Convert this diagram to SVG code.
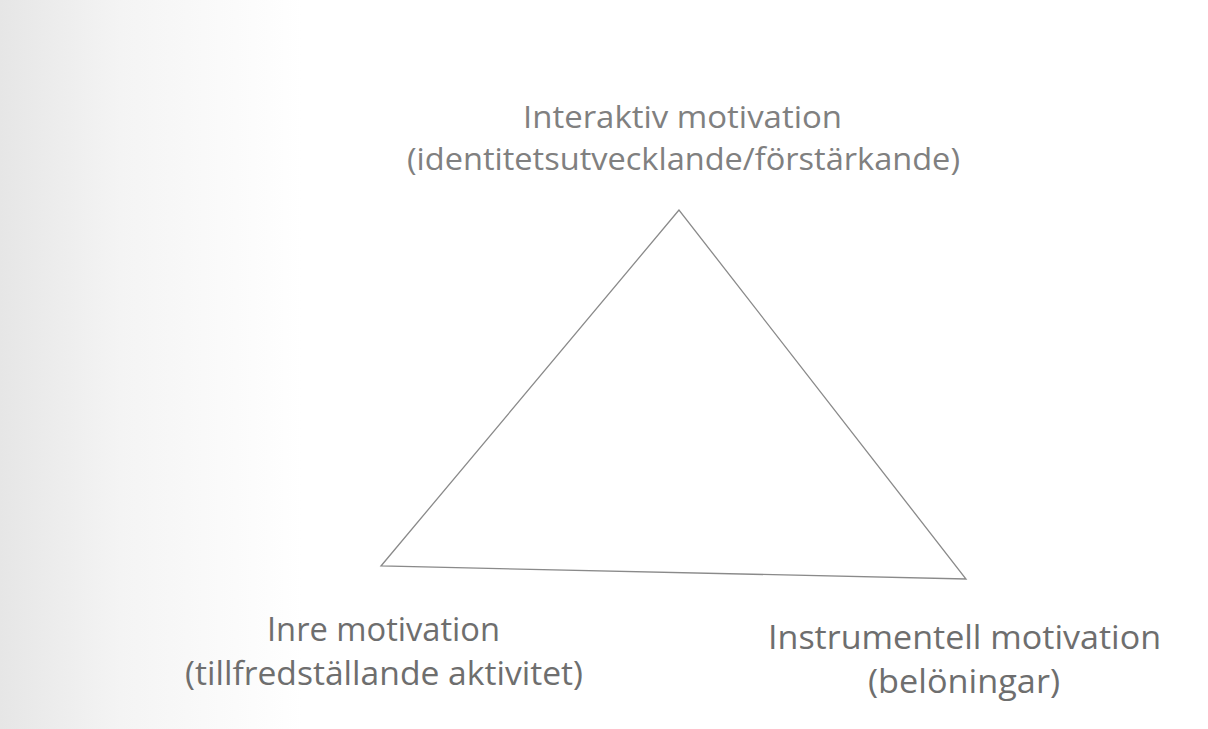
<svg xmlns="http://www.w3.org/2000/svg" width="1208" height="729" viewBox="0 0 1208 729">
<defs>
<linearGradient id="bg" x1="0" y1="0" x2="1" y2="0">
<stop offset="0" stop-color="#e6e6e6"/>
<stop offset="0.1" stop-color="#f4f4f4"/>
<stop offset="0.25" stop-color="#ffffff"/>
<stop offset="1" stop-color="#ffffff"/>
</linearGradient>
</defs>
<style>
.lbl{font-family:"Open Sans","Noto Sans","DejaVu Sans",sans-serif;font-size:31px;fill:#808080;}
.dark{fill:#6e6e6e;font-size:32px;}
.edge{fill:none;stroke:#8a8a8a;stroke-width:1.3;}
</style>
<rect x="0" y="0" width="1208" height="729" fill="url(#bg)"/>
<g id="connectors">
<path class="edge" d="M679 210 L381 566 L966 579 Z"/>
</g>
<g id="node-interaktiv">
<text class="lbl" x="523" y="128" textLength="319" lengthAdjust="spacingAndGlyphs">Interaktiv motivation</text>
<text class="lbl" x="407" y="170" textLength="553" lengthAdjust="spacingAndGlyphs">(identitetsutvecklande/förstärkande)</text>
</g>
<g id="node-inre">
<text class="lbl dark" x="267" y="641" textLength="233" lengthAdjust="spacingAndGlyphs">Inre motivation</text>
<text class="lbl dark" x="185" y="685" textLength="398" lengthAdjust="spacingAndGlyphs">(tillfredställande aktivitet)</text>
</g>
<g id="node-instrumentell">
<text class="lbl dark" x="768" y="649" textLength="393" lengthAdjust="spacingAndGlyphs">Instrumentell motivation</text>
<text class="lbl dark" x="868" y="693" textLength="192" lengthAdjust="spacingAndGlyphs">(belöningar)</text>
</g>
</svg>
